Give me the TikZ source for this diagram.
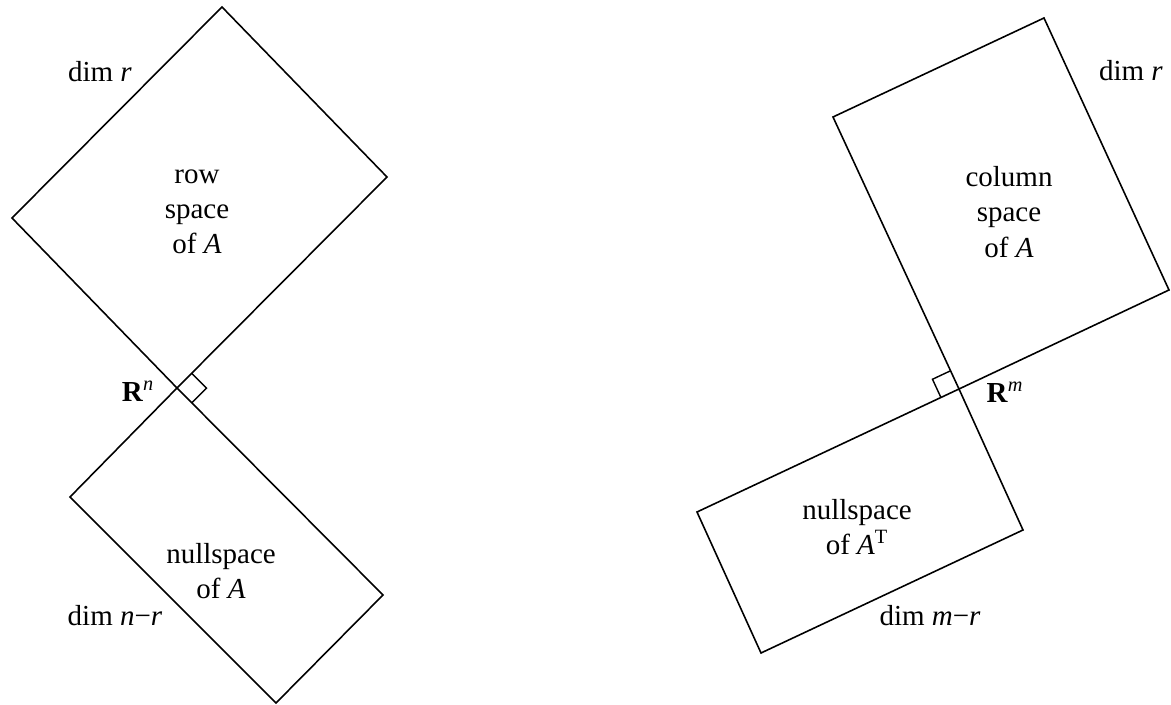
\documentclass[tikz,border=0pt]{standalone}
\usepackage{fontspec}
\setmainfont{Liberation Serif}
\usetikzlibrary{calc}

\begin{document}
\begin{tikzpicture}[x=0.02cm,y=-0.02cm,
  sp/.style={draw=black,line width=0.9pt,line join=miter},
  rt/.style={draw=black,line width=0.8pt},
  lbl/.style={font=\fontsize{16.5}{20}\selectfont,align=center,inner sep=0pt}]
\useasboundingbox (0,0) rectangle (1171,705);
% R^n: row space and nullspace
\coordinate (On) at (177,388);
\coordinate (rowL) at (12,218);
\coordinate (rowT) at (222,7);
\coordinate (rowR) at (387,177);
\coordinate (nulL) at (70,497);
\coordinate (nulB) at (276,703);
\coordinate (nulR) at (383,595);
\draw[sp] (On) -- (rowL) -- (rowT) -- (rowR) -- cycle;
\draw[sp] (On) -- (nulL) -- (nulB) -- (nulR) -- cycle;
\coordinate (sqA) at ($(On)!0.07!(rowR)$);
\coordinate (sqC) at ($(On)!0.072!(nulR)$);
\draw[rt] (sqA) -- ($(sqA)+(sqC)-(On)$) -- (sqC);
\node[lbl] (dimr) at (100,72) {dim \textit{r}};
\node[lbl] (rowtxt) at (197,212) {row\\space\\of \textit{A}};
\node[lbl] (Rn) at (138,391) {\textbf{R}\textsuperscript{\textit{n}}};
\node[lbl] (nultxt) at (221,571) {nullspace\\of \textit{A}};
\node[lbl] (dimnr) at (115,616) {dim \textit{n}−\textit{r}};
% R^m: column space and left nullspace
\coordinate (Om) at (959,389);
\coordinate (colL) at (833,117);
\coordinate (colT) at (1044,18);
\coordinate (colR) at (1169,290);
\coordinate (lnL) at (697,512);
\coordinate (lnB) at (761,653);
\coordinate (lnR) at (1023,530);
\draw[sp] (Om) -- (colL) -- (colT) -- (colR) -- cycle;
\draw[sp] (Om) -- (lnL) -- (lnB) -- (lnR) -- cycle;
\coordinate (sqU) at ($(Om)!0.067!(colL)$);
\coordinate (sqV) at ($(Om)!0.069!(lnL)$);
\draw[rt] (sqU) -- ($(sqU)+(sqV)-(Om)$) -- (sqV);
\node[lbl] (dimrm) at (1131,71) {dim \textit{r}};
\node[lbl] (coltxt) at (1009,212) {column\\space\\of \textit{A}};
\node[lbl] (Rm) at (1005,392) {\textbf{R}\textsuperscript{\textit{m}}};
\node[lbl] (lntxt) at (857,527) {nullspace\\of \textit{A}\textsuperscript{T}};
\node[lbl] (dimmr) at (930,616) {dim \textit{m}−\textit{r}};
\end{tikzpicture}
\end{document}
